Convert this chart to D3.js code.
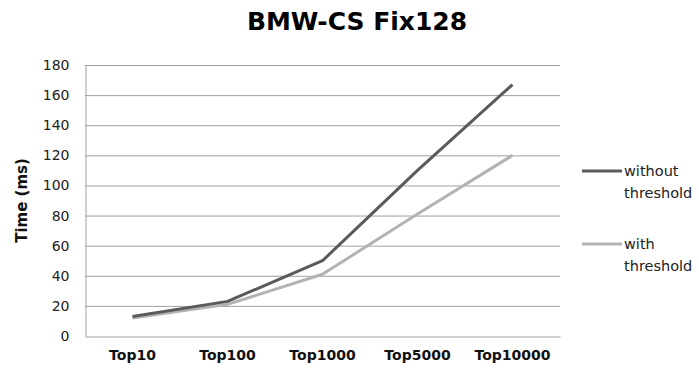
<!DOCTYPE html>
<html>
<head>
<meta charset="utf-8">
<script src="https://cdn.jsdelivr.net/npm/d3@7"></script>
<style>
  html, body { margin: 0; padding: 0; background: #fff; }
  svg { display: block; font-family: "DejaVu Sans", sans-serif; }
</style>
</head>
<body>
<svg id="chart" width="699" height="376"></svg>
<script>
// Query times for the BMW-CS Fix128 dataset
const categories = ["Top10", "Top100", "Top1000", "Top5000", "Top10000"];
const withoutThreshold = [13, 23, 50, 110, 167];
const withThreshold = [12, 21, 41, 81, 120];
const yTicks = [0, 20, 40, 60, 80, 100, 120, 140, 160, 180];
const seriesNames = ["without threshold", "with threshold"];

const series = [
  { name: seriesNames[0], values: withoutThreshold, color: "#5a5a5a" },
  { name: seriesNames[1], values: withThreshold, color: "#b3b3b3" }
];

const svg = d3.select("#chart");
const margin = { left: 85, right: 139, top: 65, bottom: 40 };
const W = 699, H = 376;
const font = "'DejaVu Sans', sans-serif";

const x = d3.scaleBand().domain(categories).range([margin.left, W - margin.right]);
const y = d3.scaleLinear().domain([0, 180]).range([H - margin.bottom, margin.top]);

// Title
svg.append("text")
  .attr("x", 357).attr("y", 30)
  .attr("text-anchor", "middle")
  .attr("font-size", 25).attr("font-weight", "bold")
  .attr("fill", "#000")
  .text("BMW-CS Fix128");

// Horizontal gridlines
svg.append("g")
  .selectAll("line")
  .data(yTicks.filter(d => d > 0))
  .join("line")
  .attr("x1", margin.left).attr("x2", W - margin.right)
  .attr("y1", d => y(d) + 0.5).attr("y2", d => y(d) + 0.5)
  .attr("stroke", "#a0a0a0").attr("stroke-width", 1);

// Y axis
const yAxis = svg.append("g")
  .attr("transform", `translate(${margin.left + 0.5},0)`)
  .call(d3.axisLeft(y).tickValues(yTicks).tickSize(0).tickPadding(16));
yAxis.select(".domain").attr("stroke", "#a0a0a0");
yAxis.selectAll("text").attr("font-size", 14).attr("fill", "#222")
  .attr("font-family", font);

// X axis
const xAxis = svg.append("g")
  .attr("transform", `translate(0,${y(0) + 0.5})`)
  .call(d3.axisBottom(x).tickSize(0).tickPadding(14));
xAxis.select(".domain").attr("stroke", "#a0a0a0");
xAxis.selectAll("text").attr("font-size", 14).attr("font-weight", "bold")
  .attr("fill", "#111").attr("font-family", font);

// Y axis title
svg.append("text")
  .attr("transform", `translate(27,${(y(0) + y(180)) / 2}) rotate(-90)`)
  .attr("text-anchor", "middle")
  .attr("font-size", 15).attr("font-weight", "bold")
  .attr("fill", "#111")
  .text("Time (ms)");

// Series lines
const line = d3.line()
  .x((d, i) => x(categories[i]) + x.bandwidth() / 2)
  .y(d => y(d));

svg.append("g")
  .selectAll("path")
  .data(series.slice().reverse())
  .join("path")
  .attr("d", d => line(d.values))
  .attr("fill", "none")
  .attr("stroke", d => d.color)
  .attr("stroke-width", 3)
  .attr("stroke-linejoin", "round");

// Legend
const legend = svg.append("g");
const legendY = [171, 244];
series.forEach((s, i) => {
  const g = legend.append("g").attr("transform", `translate(582,${legendY[i]})`);
  g.append("line").attr("x1", 0).attr("x2", 40).attr("y1", 0).attr("y2", 0)
    .attr("stroke", s.color).attr("stroke-width", 3);
  const words = s.name.split(" ");
  const t = g.append("text").attr("x", 42).attr("y", 5)
    .attr("font-size", 14.5).attr("fill", "#222");
  words.forEach((w, j) => {
    t.append("tspan").attr("x", 42).attr("dy", j === 0 ? 0 : 22).text(w);
  });
});
</script>
</body>
</html>
